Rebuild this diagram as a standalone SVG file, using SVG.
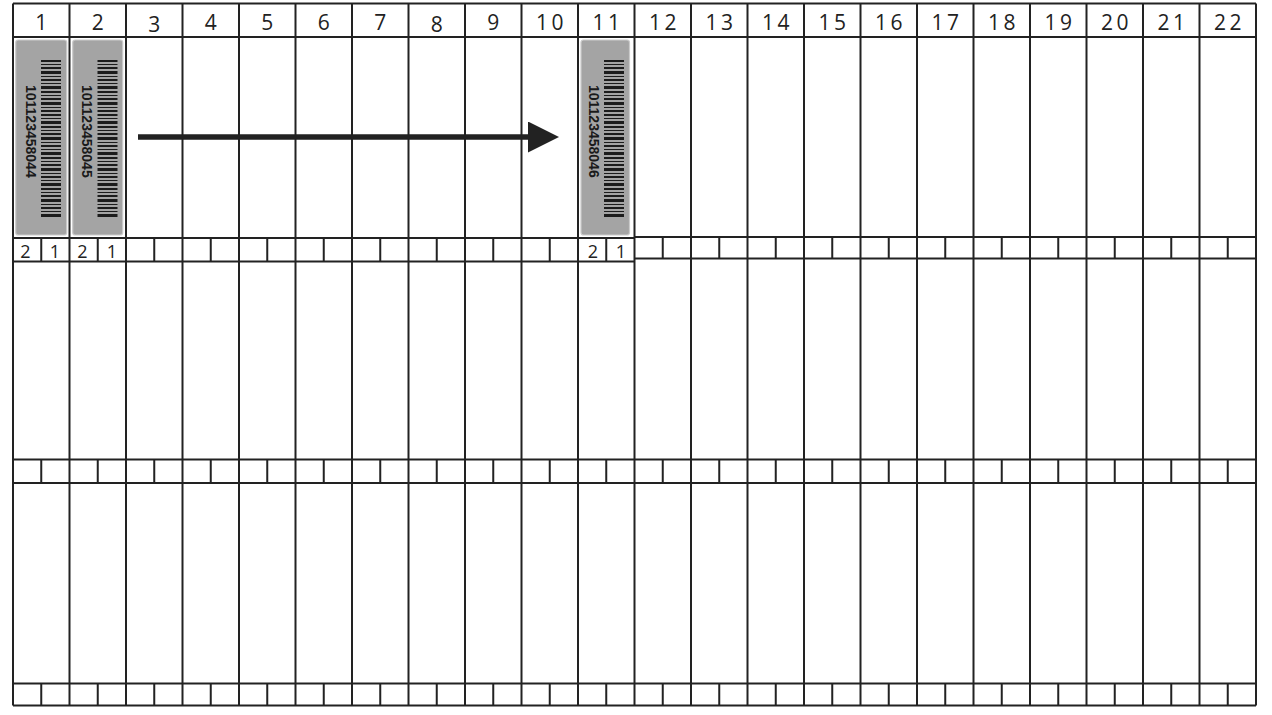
<svg xmlns="http://www.w3.org/2000/svg" xmlns:xlink="http://www.w3.org/1999/xlink" width="1272" height="715" viewBox="0 0 1272 715">
<style>
.ln{stroke:#222;stroke-width:2;fill:none}
.hd{font-family:"Open Sans","DejaVu Sans",sans-serif;font-size:21px;font-weight:500;fill:#222;text-anchor:middle;letter-spacing:3.5px}
.sm{font-family:"Open Sans","DejaVu Sans",sans-serif;font-size:18px;font-weight:500;fill:#222;text-anchor:middle}
.bc{font-family:"Liberation Sans",Arial,sans-serif;font-size:14px;font-weight:bold;fill:#1a1a1a}
.lab{fill:#a4a4a4;stroke:#cbcbcb;stroke-width:1.2}
.bar{fill:#1c1c1c}
</style>
<defs>
<g id="bars">
<rect class="bar" x="41" y="60" width="20" height="2"/>
<rect class="bar" x="41" y="64" width="20" height="1"/>
<rect class="bar" x="41" y="67" width="20" height="2"/>
<rect class="bar" x="41" y="71" width="20" height="3"/>
<rect class="bar" x="41" y="76" width="20" height="1"/>
<rect class="bar" x="41" y="79" width="20" height="2"/>
<rect class="bar" x="41" y="83" width="20" height="1"/>
<rect class="bar" x="41" y="86" width="20" height="3"/>
<rect class="bar" x="41" y="91" width="20" height="2"/>
<rect class="bar" x="41" y="95" width="20" height="1"/>
<rect class="bar" x="41" y="98" width="20" height="2"/>
<rect class="bar" x="41" y="102" width="20" height="3"/>
<rect class="bar" x="41" y="107" width="20" height="1"/>
<rect class="bar" x="41" y="110" width="20" height="2"/>
<rect class="bar" x="41" y="114" width="20" height="2"/>
<rect class="bar" x="41" y="118" width="20" height="1"/>
<rect class="bar" x="41" y="121" width="20" height="3"/>
<rect class="bar" x="41" y="126" width="20" height="2"/>
<rect class="bar" x="41" y="130" width="20" height="1"/>
<rect class="bar" x="41" y="133" width="20" height="2"/>
<rect class="bar" x="41" y="137" width="20" height="3"/>
<rect class="bar" x="41" y="142" width="20" height="1"/>
<rect class="bar" x="41" y="145" width="20" height="2"/>
<rect class="bar" x="41" y="149" width="20" height="1"/>
<rect class="bar" x="41" y="152" width="20" height="3"/>
<rect class="bar" x="41" y="157" width="20" height="2"/>
<rect class="bar" x="41" y="161" width="20" height="1"/>
<rect class="bar" x="41" y="164" width="20" height="2"/>
<rect class="bar" x="41" y="168" width="20" height="3"/>
<rect class="bar" x="41" y="173" width="20" height="1"/>
<rect class="bar" x="41" y="176" width="20" height="2"/>
<rect class="bar" x="41" y="180" width="20" height="1"/>
<rect class="bar" x="41" y="183" width="20" height="3"/>
<rect class="bar" x="41" y="188" width="20" height="2"/>
<rect class="bar" x="41" y="192" width="20" height="1"/>
<rect class="bar" x="41" y="195" width="20" height="2"/>
<rect class="bar" x="41" y="199" width="20" height="3"/>
<rect class="bar" x="41" y="204" width="20" height="1"/>
<rect class="bar" x="41" y="207" width="20" height="2"/>
<rect class="bar" x="41" y="211" width="20" height="1"/>
<rect class="bar" x="41" y="214" width="20" height="3"/>
</g>
<marker id="ah" markerUnits="userSpaceOnUse" markerWidth="32" markerHeight="31" refX="0" refY="15.5" orient="auto">
<path d="M0,0 L31,15.5 L0,31 Z" fill="#222"/>
</marker>
</defs>
<rect x="0" y="0" width="1272" height="715" fill="#fff"/>

<g id="grid">
<path class="ln" d="M13,3.5H1256M13,37H1256M13,459.5H1256M13,483H1256M13,683.5H1256M13,705.5H1256M13,238H634.5M13,261.5H634.5M634.5,237H1256M634.5,258.5H1256"/>
<path class="ln" d="M13,3.5V705.5M69.5,3.5V705.5M126,3.5V705.5M182.5,3.5V705.5M239,3.5V705.5M295.5,3.5V705.5M352,3.5V705.5M408.5,3.5V705.5M465,3.5V705.5M521.5,3.5V705.5M578,3.5V705.5M634.5,3.5V705.5M691,3.5V705.5M747.5,3.5V705.5M804,3.5V705.5M860.5,3.5V705.5M917,3.5V705.5M973.5,3.5V705.5M1030,3.5V705.5M1086.5,3.5V705.5M1143,3.5V705.5M1199.5,3.5V705.5M1256,3.5V705.5"/>
<path class="ln" d="M41.25,238V261.5M97.75,238V261.5M154.25,238V261.5M210.75,238V261.5M267.25,238V261.5M323.75,238V261.5M380.25,238V261.5M436.75,238V261.5M493.25,238V261.5M549.75,238V261.5M606.25,238V261.5M662.75,237V258.5M719.25,237V258.5M775.75,237V258.5M832.25,237V258.5M888.75,237V258.5M945.25,237V258.5M1001.75,237V258.5M1058.25,237V258.5M1114.75,237V258.5M1171.25,237V258.5M1227.75,237V258.5"/>
<path class="ln" d="M41.25,459.5V483M97.75,459.5V483M154.25,459.5V483M210.75,459.5V483M267.25,459.5V483M323.75,459.5V483M380.25,459.5V483M436.75,459.5V483M493.25,459.5V483M549.75,459.5V483M606.25,459.5V483M662.75,459.5V483M719.25,459.5V483M775.75,459.5V483M832.25,459.5V483M888.75,459.5V483M945.25,459.5V483M1001.75,459.5V483M1058.25,459.5V483M1114.75,459.5V483M1171.25,459.5V483M1227.75,459.5V483"/>
<path class="ln" d="M41.25,683.5V705.5M97.75,683.5V705.5M154.25,683.5V705.5M210.75,683.5V705.5M267.25,683.5V705.5M323.75,683.5V705.5M380.25,683.5V705.5M436.75,683.5V705.5M493.25,683.5V705.5M549.75,683.5V705.5M606.25,683.5V705.5M662.75,683.5V705.5M719.25,683.5V705.5M775.75,683.5V705.5M832.25,683.5V705.5M888.75,683.5V705.5M945.25,683.5V705.5M1001.75,683.5V705.5M1058.25,683.5V705.5M1114.75,683.5V705.5M1171.25,683.5V705.5M1227.75,683.5V705.5"/>
</g>

<g id="headers">
<text class="hd" x="43" y="29.5">1</text>
<text class="hd" x="99.5" y="29.5">2</text>
<text class="hd" x="156" y="31.5">3</text>
<text class="hd" x="212.5" y="29.5">4</text>
<text class="hd" x="269" y="29.5">5</text>
<text class="hd" x="325.5" y="29.5">6</text>
<text class="hd" x="382" y="29.5">7</text>
<text class="hd" x="438.5" y="31.5">8</text>
<text class="hd" x="495" y="29.5">9</text>
<text class="hd" x="551.5" y="29.5">10</text>
<text class="hd" x="608" y="29.5">11</text>
<text class="hd" x="664.5" y="29.5">12</text>
<text class="hd" x="721" y="29.5">13</text>
<text class="hd" x="777.5" y="29.5">14</text>
<text class="hd" x="834" y="29.5">15</text>
<text class="hd" x="890.5" y="29.5">16</text>
<text class="hd" x="947" y="29.5">17</text>
<text class="hd" x="1003.5" y="29.5">18</text>
<text class="hd" x="1060" y="29.5">19</text>
<text class="hd" x="1116.5" y="29.5">20</text>
<text class="hd" x="1173" y="29.5">21</text>
<text class="hd" x="1229.5" y="29.5">22</text>
</g>

<g id="label-1">
<rect class="lab" x="15.7" y="40" width="51" height="195" rx="2.5"/>
<use xlink:href="#bars" href="#bars"/>
<text class="bc" transform="translate(25.5,85) rotate(90)">101123458044</text>
</g>
<g id="label-2">
<rect class="lab" x="72.7" y="40" width="50" height="195" rx="2.5"/>
<use xlink:href="#bars" href="#bars" transform="translate(56.5,0)"/>
<text class="bc" transform="translate(82,85) rotate(90)">101123458045</text>
</g>
<g id="label-11">
<rect class="lab" x="581" y="40" width="48.5" height="195" rx="2.5"/>
<use xlink:href="#bars" href="#bars" transform="translate(563,0)"/>
<text class="bc" transform="translate(589,85) rotate(90)">101123458046</text>
</g>

<g id="slot-numbers">
<text class="sm" x="25.5" y="257.7">2</text>
<text class="sm" x="55" y="257.7">1</text>
<text class="sm" x="82.5" y="257.7">2</text>
<text class="sm" x="112" y="257.7">1</text>
<text class="sm" x="593" y="257.7">2</text>
<text class="sm" x="621" y="257.7">1</text>
</g>

<g id="connectors">
<line x1="138" y1="137" x2="528" y2="137" stroke="#222" stroke-width="5.5" marker-end="url(#ah)"/>
</g>
</svg>
